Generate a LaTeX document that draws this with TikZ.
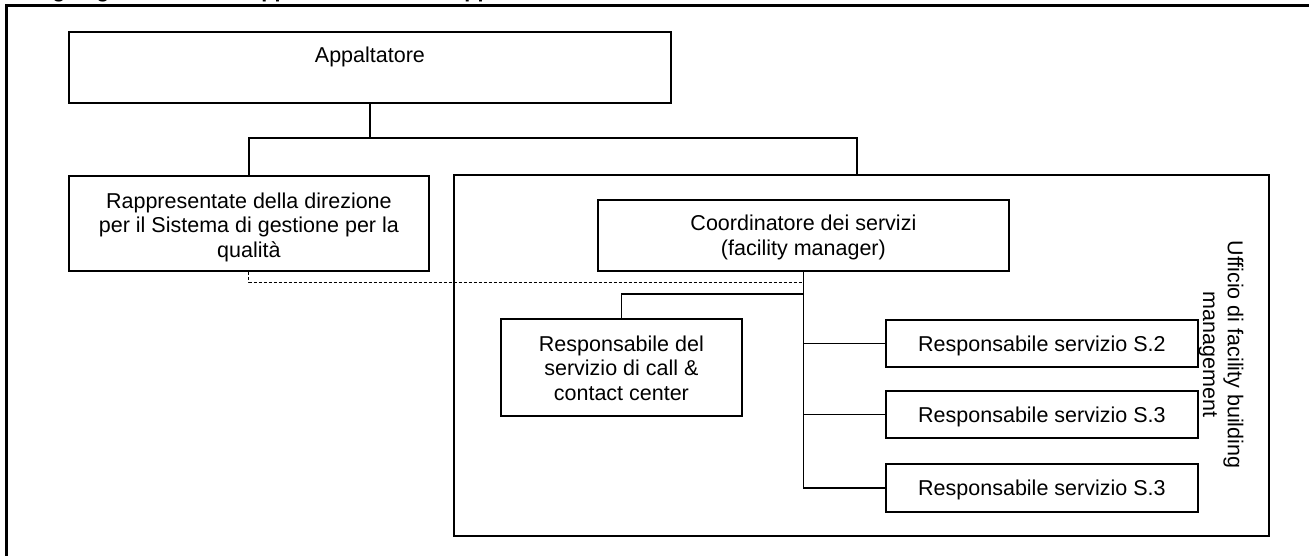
\documentclass[tikz,border=0pt]{standalone}
\usepackage{fontspec}
\setmainfont{Liberation Sans}
\usetikzlibrary{calc}
\begin{document}
\begin{tikzpicture}[x=1pt,y=-1pt,
  box/.style={draw, line width=1.8pt, inner sep=0pt, anchor=north west},
  lbl/.style={font=\fontsize{21.5}{24.7}\selectfont, align=center, anchor=north, inner sep=0pt},
  conn/.style={line width=1.8pt},
  dashline/.style={line width=0.9pt, dash pattern=on 3pt off 2pt}]
\useasboundingbox (0,0) rectangle (1309,556);

% title (cut off at top) and frame
\node[font=\bfseries\fontsize{21.5}{24.7}\selectfont, anchor=base west, inner sep=0pt] (title) at (27,-2.2) {Organigramma della rappresentanza dell'Appaltatore};
\draw[line width=3pt] (6,580) -- (6,6) -- (1330,6);

% boxes
\node[box, minimum width=602pt, minimum height=71pt] (app) at (68,31) {};
\node[box, minimum width=360pt, minimum height=95pt] (rapp) at (68,175) {};
\node[box, minimum width=815pt, minimum height=361pt] (uff) at (453,174) {};
\node[box, minimum width=411pt, minimum height=71pt] (coord) at (597,199) {};
\node[box, minimum width=241pt, minimum height=97pt] (resp) at (500,318) {};
\node[box, minimum width=312pt, minimum height=47pt] (s2) at (885,319) {};
\node[box, minimum width=312pt, minimum height=47pt] (s3) at (885,390) {};
\node[box, minimum width=312pt, minimum height=48pt] (s3b) at (885,463) {};

% labels
\node[lbl] (appT) at ($(app.north)+(0,15.8)$) {Appaltatore};
\node[lbl] (rappT) at ($(rapp.north)+(0,17.5)$) {Rappresentate della direzione\\per il Sistema di gestione per la\\qualità};
\node[lbl] (coordT) at ($(coord.north)+(0,15.8)$) {Coordinatore dei servizi\\(facility manager)};
\node[lbl] (respT) at ($(resp.north)+(0,17.5)$) {Responsabile del\\servizio di call \&\\contact center};
\node[lbl] (s2T) at ($(s2.north)+(0,16.3)$) {Responsabile servizio S.2};
\node[lbl] (s3T) at ($(s3.north)+(0,16.3)$) {Responsabile servizio S.3};
\node[lbl] (s3bT) at ($(s3b.north)+(0,16.3)$) {Responsabile servizio S.3};
\node[lbl, anchor=center, rotate=-90] (uffT) at (1221,354.5) {Ufficio di facility building\\management};

% connectors
\coordinate (bus) at (0,138);
\coordinate (uffTop) at ($(uff.north west)+(404,0)$);
\draw[conn] (app.south) -- (app.south |- bus);
\draw[conn] (rapp.north) -- (rapp.north |- bus) -- (uffTop |- bus) -- (uffTop);
\draw[conn] (coord.south) -- (coord.south |- s3b.west);
\draw[conn] (coord.south |- s2.west) -- (s2.west);
\draw[conn] (coord.south |- s3.west) -- (s3.west);
\draw[conn] (coord.south |- s3b.west) -- (s3b.west);
\draw[conn] (coord.south |- 0,294) -| (resp.north);
\draw[dashline] (rapp.south) |- (coord.south |- 0,282);
\end{tikzpicture}
\end{document}
